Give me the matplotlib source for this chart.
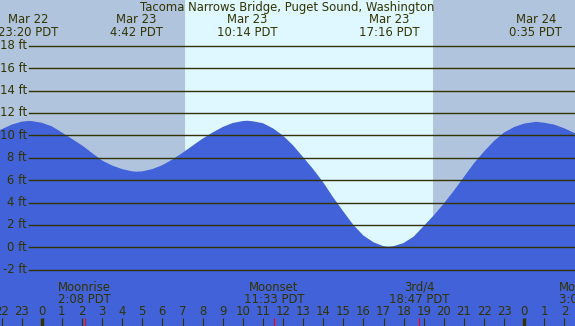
import matplotlib
matplotlib.use("Agg")
import matplotlib.pyplot as plt

# tide curve (hours since Mar 23 00:00 PDT, feet)
curve_hours = [-2.08, -1.5, -1, -0.67, -0.5, 0, 0.5, 1, 1.5, 2, 2.5, 3, 3.5, 4, 4.5, 4.7,
               5, 5.5, 6, 6.5, 7, 7.5, 8, 8.5, 9, 9.5, 10, 10.23,
               10.5, 11, 11.5, 12, 12.5, 13, 13.5, 14, 14.5, 15, 15.5, 16, 16.5, 17, 17.27,
               17.5, 18, 18.5, 19, 19.5, 20, 20.5, 21, 21.5, 22, 22.5, 23, 23.5, 24, 24.58,
               25, 25.5, 26, 26.53]
curve_feet = [10.47, 10.95, 11.22, 11.28, 11.27, 11.12, 10.8, 10.25, 9.68, 9.1, 8.42, 7.75,
              7.3, 6.98, 6.78, 6.75,
              6.78, 6.98, 7.34, 7.84, 8.43, 9.07, 9.7, 10.25, 10.74, 11.1, 11.27, 11.3,
              11.25, 11.08, 10.62, 9.97, 9.1, 8.05, 6.98, 5.8, 4.45, 3.2, 2.0, 1.05, 0.45,
              0.1, 0.05,
              0.1, 0.38, 0.95, 1.9, 2.85, 3.9, 5.05, 6.28, 7.5, 8.55, 9.5, 10.25, 10.74,
              11.05, 11.2,
              11.12, 10.95, 10.62, 10.18]

# high / low tide labels
tide_hours = [-0.67, 4.7, 10.23, 17.27, 24.58]
tide_labels = ["Mar 22\n23:20 PDT", "Mar 23\n4:42 PDT", "Mar 23\n10:14 PDT",
               "Mar 23\n17:16 PDT", "Mar 24\n0:35 PDT"]

# moon events
moon_hours = [2.13, 11.55, 18.78, 27.03]
moon_labels = ["Moonrise\n2:08 PDT", "Moonset\n11:33 PDT", "3rd/4\n18:47 PDT",
               "Moonrise\n3:02 PDT"]

sunrise, sunset = 7.12, 19.46
grid_feet = [18, 16, 14, 12, 10, 8, 6, 4, 2, 0, -2]
hour_ticks = list(range(-2, 27))

title = "Tacoma Narrows Bridge, Puget Sound, Washington"

night_col = "#b0c4de"
day_col = "#dff7ff"
water_col = "#4162d8"
ink = "#333300"
fs = 8.4

W, H = 575, 326
fig = plt.figure(figsize=(W / 100, H / 100), dpi=100)
ax = fig.add_axes([0, 0, 1, 1])
ax.set_xlim(-41.8 / 20.1, (W - 41.8) / 20.1)
ax.set_ylim(-(H - 247.3) / 11.2, 247.3 / 11.2)
ax.axis("off")
ax.add_patch(plt.Rectangle((0, 0), 1, 1, transform=ax.transAxes, color=night_col, zorder=0))

ax.axvspan(sunrise, sunset, color=day_col, zorder=1, lw=0)
ax.fill_between(curve_hours, curve_feet, -20, color=water_col, zorder=2, lw=0)

ytr = ax.get_yaxis_transform()
for ft in grid_feet:
    ax.axhline(ft, xmin=29 / W, xmax=1, color=ink, lw=1.0, zorder=3)
    ax.text(27 / W, ft, f"{ft} ft", transform=ytr, ha="right", va="center",
            fontsize=fs, color=ink, zorder=4)

xtr = ax.get_xaxis_transform()
fy = lambda px: 1 - px / H

ax.text(0.5, fy(7), title, transform=ax.transAxes, ha="center", va="center",
        fontsize=fs, color=ink, zorder=4)
for h, lab in zip(tide_hours, tide_labels):
    ax.text(h, fy(26), lab, transform=xtr, ha="center", va="center",
            fontsize=fs, color=ink, linespacing=0.95, zorder=4)

for h, lab in zip(moon_hours, moon_labels):
    ax.text(h, fy(293.5), lab, transform=xtr, ha="center", va="center",
            fontsize=fs, color=ink, linespacing=0.95, zorder=4)

for h in hour_ticks:
    ax.text(h, fy(311.5), str(h % 24), transform=xtr, ha="center", va="center",
            fontsize=fs, color=ink, zorder=4)
    lw = 2.4 if h % 24 == 0 else 0.8
    ax.vlines(h, 0, fy(318), transform=xtr, color=ink, lw=lw, zorder=4)

ax.vlines(moon_hours, 0, fy(318), transform=xtr, color="red", lw=0.8, zorder=5)

fig.savefig("out.png", dpi=100)
